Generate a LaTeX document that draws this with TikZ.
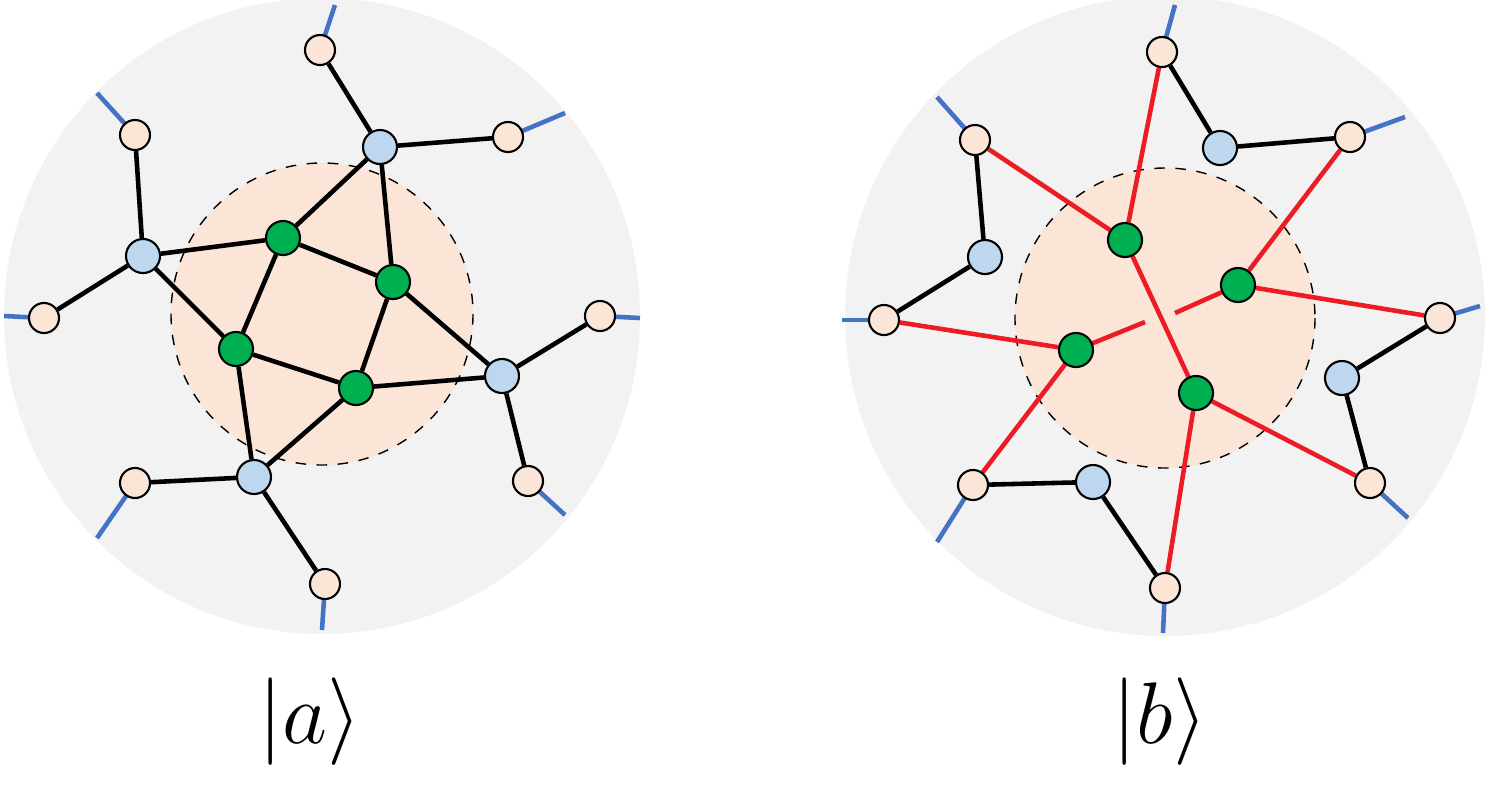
\documentclass[tikz,border=0pt]{standalone}
\usetikzlibrary{backgrounds}
\definecolor{disk}{HTML}{F2F2F2}
\definecolor{peach}{HTML}{FBE5D6}
\definecolor{lblue}{HTML}{BDD7EE}
\definecolor{dgreen}{HTML}{00B050}
\definecolor{bond}{HTML}{ED1C24}
\definecolor{leg}{HTML}{4472C4}
\tikzset{
  pnode/.style={circle,draw,fill=peach,minimum size=30\unit,inner sep=0pt,line width=0.6pt},
  bnode/.style={circle,draw,fill=lblue,minimum size=34\unit,inner sep=0pt,line width=0.6pt},
  gnode/.style={circle,draw,fill=dgreen,minimum size=34\unit,inner sep=0pt,line width=0.6pt},
  blk/.style={line width=1.3pt},
  redl/.style={line width=1.3pt,bond},
  legl/.style={line width=1.3pt,leg}
}
\newcommand{\unit}{pt*0.2845}
\begin{document}
\begin{tikzpicture}[x=0.01cm,y=-0.01cm]
\useasboundingbox (0,0) rectangle (1490,787);
% left state
\node[pnode] (p1) at (320,50) {};
\node[pnode] (p2) at (508,137) {};
\node[pnode] (p3) at (135,135) {};
\node[pnode] (p4) at (44,318) {};
\node[pnode] (p5) at (600,316) {};
\node[pnode] (p6) at (528,481) {};
\node[pnode] (p7) at (135,483) {};
\node[pnode] (p8) at (325,584) {};
\node[bnode] (b1) at (380,147) {};
\node[bnode] (b2) at (143,256) {};
\node[bnode] (b3) at (502,376) {};
\node[bnode] (b4) at (254,477) {};
\node[gnode] (g1) at (283,238) {};
\node[gnode] (g2) at (393,282) {};
\node[gnode] (g3) at (236,349) {};
\node[gnode] (g4) at (356,388) {};
\coordinate (e1) at (335,5);
\coordinate (e2) at (565,113);
\coordinate (e3) at (97,93);
\coordinate (e4) at (4,316);
\coordinate (e5) at (640,318);
\coordinate (e6) at (565,515);
\coordinate (e7) at (97,538);
\coordinate (e8) at (322,630);
% right state
\node[pnode] (q1) at (1162,52) {};
\node[pnode] (q2) at (1350,137) {};
\node[pnode] (q3) at (975,140) {};
\node[pnode] (q4) at (884,320) {};
\node[pnode] (q5) at (1440,318) {};
\node[pnode] (q6) at (1370,483) {};
\node[pnode] (q7) at (973,485) {};
\node[pnode] (q8) at (1165,588) {};
\node[bnode] (c1) at (1220,148) {};
\node[bnode] (c2) at (985,257) {};
\node[bnode] (c3) at (1342,378) {};
\node[bnode] (c4) at (1093,482) {};
\node[gnode] (h1) at (1125,240) {};
\node[gnode] (h2) at (1238,285) {};
\node[gnode] (h3) at (1076,350) {};
\node[gnode] (h4) at (1196,393) {};
\coordinate (f1) at (1175,5);
\coordinate (f2) at (1405,117);
\coordinate (f3) at (937,97);
\coordinate (f4) at (842,320);
\coordinate (f5) at (1480,306);
\coordinate (f6) at (1408,518);
\coordinate (f7) at (937,542);
\coordinate (f8) at (1163,633);
\coordinate (gA) at (1145,322);
\coordinate (gB) at (1175,313);
\node (ka) at (310,722) {\fontsize{30}{36}\selectfont$|a\rangle$};
\node (kb) at (1160,722) {\fontsize{30}{36}\selectfont$|b\rangle$};
\begin{scope}[on background layer]
\fill[disk] (322,316) circle (318);
\fill[disk] (1165,316) circle (320);
\draw[dashed,fill=peach] (322,314) circle (151);
\draw[dashed,fill=peach] (1165,318) circle (150);
\foreach \a/\b in {p1/e1,p2/e2,p3/e3,p4/e4,p5/e5,p6/e6,p7/e7,p8/e8,
  q1/f1,q2/f2,q3/f3,q4/f4,q5/f5,q6/f6,q7/f7,q8/f8}
  \draw[legl] (\a.center) -- (\b);
\foreach \a/\b in {p1/b1,b1/p2,b1/g1,b1/g2,p3/b2,p4/b2,b2/g1,b2/g3,g1/g2,g1/g3,
  g2/g4,g2/b3,g3/g4,g3/b4,g4/b3,g4/b4,b3/p5,b3/p6,b4/p7,b4/p8}
  \draw[blk] (\a) -- (\b);
\foreach \a/\b in {q1/c1,c1/q2,q3/c2,c2/q4,q5/c3,c3/q6,q7/c4,c4/q8}
  \draw[blk] (\a) -- (\b);
\foreach \a/\b in {q1/h1,q3/h1,q2/h2,q4/h3,h1/h4,q5/h2,h4/q6,h3/q7,h4/q8}
  \draw[redl] (\a) -- (\b);
\draw[redl] (h3) -- (gA);
\draw[redl] (gB) -- (h2);
\end{scope}
\end{tikzpicture}
\end{document}
